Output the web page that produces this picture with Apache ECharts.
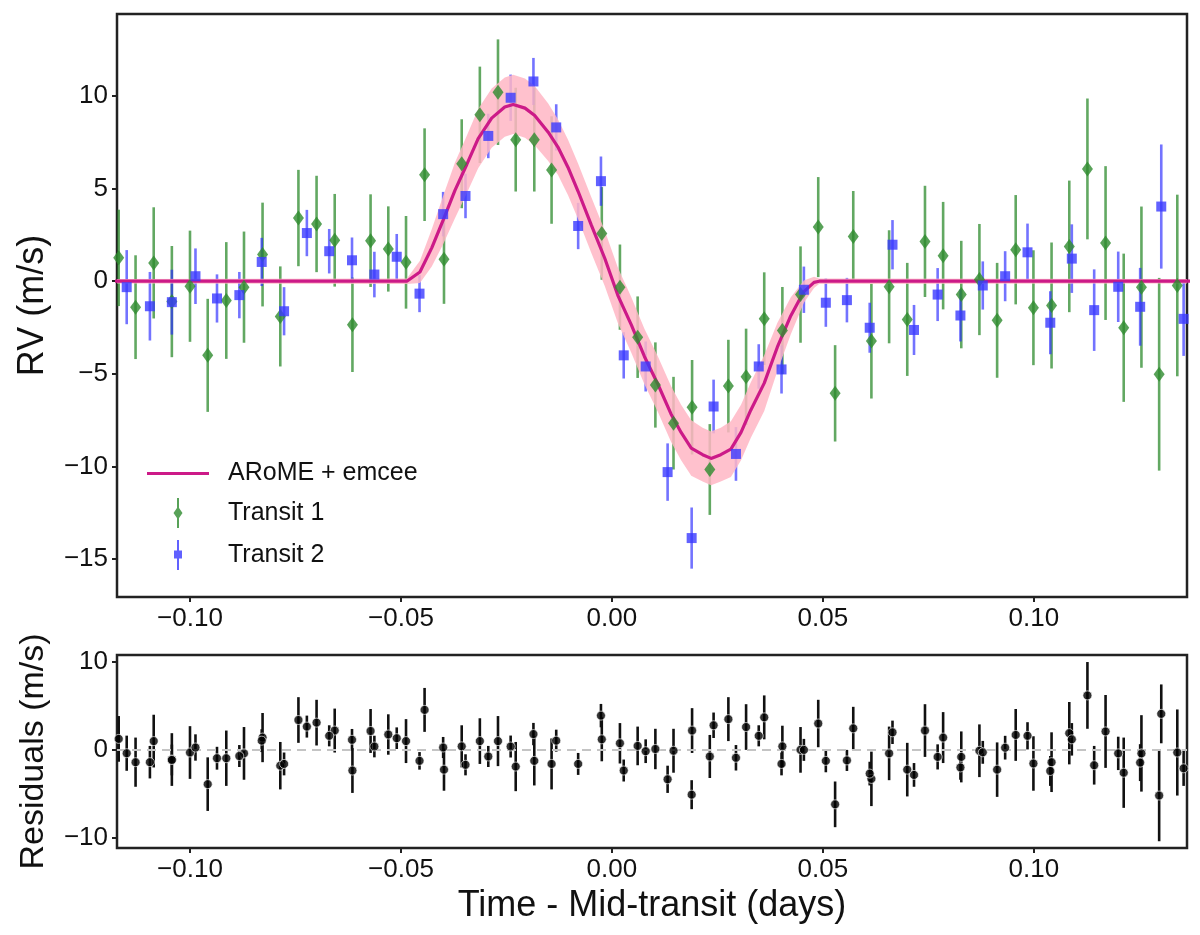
<!DOCTYPE html>
<html>
<head>
<meta charset="utf-8">
<title>RM effect fit</title>
<script src="https://cdn.jsdelivr.net/npm/echarts@6.0.0/dist/echarts.min.js"></script>
<style>
  html, body { margin: 0; padding: 0; background: #fff; }
  #chart { width: 1200px; height: 935px; }
</style>
</head>
<body>
<div id="chart"></div>
<script>
// Transit 1 (green diamonds)
var t1Time = [-0.1169, -0.1129, -0.1086, -0.1043, -0.1000, -0.0958, -0.0914, -0.0872, -0.0828, -0.0786,
  -0.0743, -0.0700, -0.0657, -0.0615, -0.0572, -0.0530, -0.0488, -0.0444, -0.0398, -0.0356,
  -0.0313, -0.0270, -0.0228, -0.0184, -0.0143, -0.0024, 0.0019, 0.0061, 0.0103, 0.0146,
  0.0190, 0.0232, 0.0276, 0.0318, 0.0361, 0.0404, 0.0447, 0.0489, 0.0529, 0.0572,
  0.0615, 0.0657, 0.0700, 0.0742, 0.0785, 0.0828, 0.0871, 0.0913, 0.0957, 0.0999,
  0.1042, 0.1084, 0.1127, 0.1170, 0.1213, 0.1255, 0.1297, 0.1340];
var t1RV = [1.26, -1.40, 0.99, -1.10, -0.27, -4.00, -1.04, -0.32, 1.44, -1.90,
  3.41, 3.09, 2.21, -2.35, 2.19, 1.74, 1.02, 5.75, 1.18, 6.34,
  8.98, 10.20, 7.64, 7.64, 6.00, 2.58, -0.32, -3.02, -5.60, -7.66,
  -6.80, -10.16, -5.66, -5.16, -2.02, -2.66, -0.72, 2.92, -6.05, 2.42,
  -3.23, -0.30, -2.06, 2.15, 1.38, -0.72, 0.09, -2.11, 1.70, -1.43,
  -1.31, 1.88, 6.06, 2.06, -2.51, -0.32, -5.02, -0.23];
var t1Err = [2.6, 2.8, 3.0, 3.0, 3.0, 3.05, 3.15, 3.0, 2.8, 2.7,
  2.6, 2.6, 2.5, 2.55, 2.5, 2.3, 2.5, 2.5, 2.4, 2.4,
  2.6, 2.85, 2.8, 2.8, 2.9, 2.5, 2.3, 2.2, 2.3, 2.5,
  2.55, 2.45, 2.5, 2.6, 2.5, 2.35, 2.6, 2.7, 2.6, 2.45,
  3.1, 3.05, 3.05, 3.0, 2.9, 2.9, 3.0, 3.1, 2.95, 3.1,
  3.4, 3.55, 3.8, 4.15, 4.0, 4.35, 5.2, 4.9];
var t1Resid = [1.25, -1.4, 1.0, -1.1, -0.3, -3.9, -0.95, -0.4, 1.4, -1.8,
  3.4, 3.1, 2.2, -2.35, 2.15, 1.75, 1.0, 4.55, -2.25, 0.4,
  1.0, 1.0, -1.9, -1.25, -1.6, 1.2, 0.75, 0.45, 0.1, -0.1,
  2.2, -0.75, 3.5, 2.6, 3.7, 0.4, 0.0, 3.0, -6.2, 2.45,
  -3.3, -0.4, -2.25, 2.2, 1.4, -0.8, -0.1, -2.25, 1.7, -1.55,
  -1.4, 1.9, 6.2, 2.1, -2.6, -0.4, -5.2, -0.3];

// Transit 2 (blue squares)
var t2Time = [-0.1150, -0.1095, -0.1043, -0.0987, -0.0936, -0.0883, -0.0830, -0.0777, -0.0723, -0.0670,
  -0.0616, -0.0563, -0.0510, -0.0456, -0.0400, -0.0347, -0.0293, -0.0240, -0.0186, -0.0132,
  -0.0080, -0.0026, 0.0028, 0.0080, 0.0132, 0.0189, 0.0241, 0.0294, 0.0348, 0.0402,
  0.0455, 0.0507, 0.0557, 0.0611, 0.0665, 0.0716, 0.0772, 0.0826, 0.0879, 0.0932,
  0.0985, 0.1039, 0.1090, 0.1143, 0.1200, 0.1252, 0.1302, 0.1355];
var t2RV = [-0.32, -1.35, -1.13, 0.27, -0.93, -0.75, 1.04, -1.62, 2.60, 1.62,
  1.13, 0.36, 1.32, -0.67, 3.62, 4.60, 7.84, 9.90, 10.78, 8.30,
  2.98, 5.40, -4.00, -4.60, -10.30, -13.86, -6.76, -9.32, -4.60, -4.76,
  -0.46, -1.16, -1.02, -2.51, 1.97, -2.63, -0.72, -1.85, -0.23, 0.27,
  1.56, -2.24, 1.22, -1.56, -0.30, -1.38, 4.03, -2.03];
var t2Err = [2.0, 1.85, 1.75, 1.5, 1.3, 1.25, 1.3, 1.3, 1.25, 1.2,
  1.23, 1.23, 1.23, 1.0, 1.2, 1.2, 1.2, 1.25, 1.27, 1.25,
  1.25, 1.33, 1.25, 1.35, 1.55, 1.65, 1.45, 1.45, 1.2, 1.3,
  1.25, 1.3, 1.2, 1.35, 1.33, 1.35, 1.43, 1.4, 1.3, 1.35,
  1.55, 1.7, 1.85, 2.2, 1.9, 2.1, 3.35, 2.0];
var t2Resid = [-0.38, -1.4, -1.15, 0.27, -0.95, -0.7, 1.05, -1.6, 2.65, 1.6,
  1.15, 0.38, 1.33, -1.25, 0.27, -1.7, -0.75, 0.38, 1.8, 1.05,
  -1.6, 3.9, -2.35, -0.15, -3.35, -5.1, 2.8, -0.9, 1.6, -1.6,
  0.0, -1.25, -1.2, -2.7, 2.0, -2.85, -0.8, -2.0, -0.28, 0.25,
  1.6, -2.4, 1.2, -1.75, -0.4, -1.45, 4.1, -2.1];

// ARoME + emcee model and its spread
var modelTime = [-0.1200, -0.0486, -0.0455, -0.0427, -0.0400, -0.0372, -0.0344, -0.0317, -0.0285, -0.0254,
  -0.0234, -0.0206, -0.0183, -0.0151, -0.0128, -0.0104, -0.0080, -0.0049, -0.0017, 0.0014,
  0.0046, 0.0077, 0.0109, 0.0140, 0.0164, 0.0188, 0.0215, 0.0235, 0.0258, 0.0282,
  0.0306, 0.0329, 0.0361, 0.0392, 0.0424, 0.0455, 0.0479, 0.0491, 0.1400];
var modelRV = [0, 0, 0.50, 1.80, 3.30, 4.90, 6.30, 7.70, 8.80, 9.40,
  9.54, 9.34, 8.94, 8.04, 7.24, 6.14, 4.84, 3.04, 1.24, -0.76,
  -2.36, -4.06, -5.56, -7.16, -8.16, -9.00, -9.36, -9.56, -9.36, -9.06,
  -8.16, -6.96, -5.50, -3.56, -1.86, -0.56, -0.06, 0, 0];
var modelBand = [0.12, 0.15, 0.6, 1.0, 1.3, 1.5, 1.55, 1.6, 1.6, 1.6,
  1.6, 1.6, 1.6, 1.55, 1.5, 1.5, 1.5, 1.5, 1.5, 1.5,
  1.5, 1.5, 1.5, 1.5, 1.5, 1.5, 1.45, 1.45, 1.45, 1.5,
  1.5, 1.5, 1.5, 1.3, 1.0, 0.6, 0.3, 0.15, 0.12];

var xTicks = [-0.10, -0.05, 0.00, 0.05, 0.10];
var rvTicks = [-15, -10, -5, 0, 5, 10];
var residTicks = [-10, 0, 10];

var FONT = "'Liberation Sans', Arial, sans-serif";
var greenMark = '#2e8b2e', greenBar = 'rgba(46,139,46,0.75)';
var blueMark = '#3a3aff', blueBar = 'rgba(40,40,255,0.65)';
var modelColor = '#cc1a88';

function fmtX(v) {
  return (v < -1e-9 ? '\u2212' : '') + Math.abs(v).toFixed(2);
}
function fmtY(v) {
  return (v < 0 ? '\u2212' : '') + Math.abs(v);
}

function zip3(a, b, c) {
  return a.map(function (t, i) { return [t, b[i], c[i]]; });
}

function errorBars(color, width) {
  return function (params, api) {
    var x = api.value(0), y = api.value(1), e = api.value(2);
    var lo = api.coord([x, y - e]);
    var hi = api.coord([x, y + e]);
    return {
      type: 'line',
      shape: { x1: lo[0], y1: lo[1], x2: hi[0], y2: hi[1] },
      style: { stroke: color, lineWidth: width }
    };
  };
}

function bandRender(params, api) {
  if (params.dataIndex !== 0) return;
  var pts = [];
  for (var i = 0; i < modelTime.length; i++) {
    pts.push(api.coord([modelTime[i], modelRV[i] + modelBand[i]]));
  }
  for (var j = modelTime.length - 1; j >= 0; j--) {
    pts.push(api.coord([modelTime[j], modelRV[j] - modelBand[j]]));
  }
  return { type: 'polygon', shape: { points: pts }, style: { fill: 'rgba(255,182,196,0.85)' } };
}

function xAxisCfg(idx, withName) {
  var ax = {
    type: 'value', gridIndex: idx, min: -0.1173, max: 0.1363,
    axisLine: { show: false, onZero: false },
    splitLine: { show: false },
    axisTick: { show: true, length: 5, customValues: xTicks, lineStyle: { color: '#222', width: 2 } },
    axisLabel: { customValues: xTicks, formatter: fmtX, fontSize: 26, color: '#111', margin: 9, fontFamily: FONT }
  };
  if (withName) {
    ax.name = 'Time - Mid-transit (days)';
    ax.nameLocation = 'middle';
    ax.nameGap = 40;
    ax.nameTextStyle = { fontSize: 36, color: '#111', fontFamily: FONT };
  }
  return ax;
}

function yAxisCfg(idx, min, max, ticks, name, nameSize) {
  return {
    type: 'value', gridIndex: idx, min: min, max: max,
    axisLine: { show: false, onZero: false },
    splitLine: { show: false },
    axisTick: { show: true, length: 5, customValues: ticks, lineStyle: { color: '#222', width: 2 } },
    axisLabel: { customValues: ticks, formatter: fmtY, fontSize: 26, color: '#111', margin: 9, fontFamily: FONT },
    name: name, nameLocation: 'middle', nameGap: 66,
    nameTextStyle: { fontSize: nameSize, color: '#111', fontFamily: FONT }
  };
}

var chart = echarts.init(document.getElementById('chart'), null, { renderer: 'canvas' });

var option = {
  backgroundColor: '#fff',
  animation: false,
  textStyle: { fontFamily: FONT },
  grid: [
    { left: 117, right: 13, top: 14, height: 583, show: true, borderColor: '#222', borderWidth: 2.5, backgroundColor: 'transparent' },
    { left: 117, right: 13, top: 655, height: 193, show: true, borderColor: '#222', borderWidth: 2.5, backgroundColor: 'transparent' }
  ],
  xAxis: [xAxisCfg(0, false), xAxisCfg(1, true)],
  yAxis: [
    yAxisCfg(0, -17.04, 14.42, rvTicks, 'RV (m/s)', 36),
    yAxisCfg(1, -11.17, 10.8, residTicks, 'Residuals (m/s)', 34)
  ],
  legend: {
    orient: 'vertical', left: 142, top: 456,
    itemWidth: 62, itemHeight: 30, itemGap: 12,
    textStyle: { fontSize: 25, color: '#111', fontFamily: FONT, padding: [0, 0, 0, 14] },
    data: [
      { name: 'ARoME + emcee', icon: 'path://M0,0L62,0L62,3L0,3Z', itemStyle: { color: modelColor } },
      { name: 'Transit 1', icon: 'path://M3.5,0L5.5,0L5.5,30L3.5,30Z M4.5,8.5L9,15L4.5,21.5L0,15Z', itemStyle: { color: greenMark } },
      { name: 'Transit 2', icon: 'path://M3.5,0L5.5,0L5.5,30L3.5,30Z M0.5,10.5L8.5,10.5L8.5,18.5L0.5,18.5Z', itemStyle: { color: blueMark } }
    ]
  },
  series: [
    {
      name: 'err1', type: 'custom', xAxisIndex: 0, yAxisIndex: 0, clip: true, z: 2,
      renderItem: errorBars(greenBar, 2.6), encode: { x: 0, y: 1 },
      data: zip3(t1Time, t1RV, t1Err)
    },
    {
      name: 'err2', type: 'custom', xAxisIndex: 0, yAxisIndex: 0, clip: true, z: 2,
      renderItem: errorBars(blueBar, 2.6), encode: { x: 0, y: 1 },
      data: zip3(t2Time, t2RV, t2Err)
    },
    {
      name: 'band', type: 'custom', xAxisIndex: 0, yAxisIndex: 0, clip: true, z: 3,
      renderItem: bandRender, encode: { x: 0, y: 1 },
      data: modelTime.map(function (t, i) { return [t, modelRV[i]]; })
    },
    {
      name: 'ARoME + emcee', type: 'line', xAxisIndex: 0, yAxisIndex: 0, z: 4,
      showSymbol: false, symbol: 'none', color: modelColor,
      lineStyle: { color: modelColor, width: 3.2 },
      data: modelTime.map(function (t, i) { return [t, modelRV[i]]; })
    },
    {
      name: 'Transit 1', type: 'scatter', xAxisIndex: 0, yAxisIndex: 0, z: 5,
      symbol: 'diamond', symbolSize: [11, 15], color: greenMark,
      itemStyle: { color: greenMark },
      data: t1Time.map(function (t, i) { return [t, t1RV[i]]; })
    },
    {
      name: 'Transit 2', type: 'scatter', xAxisIndex: 0, yAxisIndex: 0, z: 6,
      symbol: 'rect', symbolSize: 10, color: blueMark,
      itemStyle: { color: blueMark },
      data: t2Time.map(function (t, i) { return [t, t2RV[i]]; })
    },
    {
      name: 'resErr1', type: 'custom', xAxisIndex: 1, yAxisIndex: 1, clip: true, z: 3,
      renderItem: errorBars('#111', 2.6), encode: { x: 0, y: 1 },
      data: zip3(t1Time, t1Resid, t1Err),
      markLine: {
        silent: true, symbol: 'none', label: { show: false },
        lineStyle: { color: '#c4c4c4', type: [9, 6], width: 2 },
        data: [{ yAxis: 0 }]
      }
    },
    {
      name: 'resErr2', type: 'custom', xAxisIndex: 1, yAxisIndex: 1, clip: true, z: 3,
      renderItem: errorBars('#111', 2.6), encode: { x: 0, y: 1 },
      data: zip3(t2Time, t2Resid, t2Err)
    },
    {
      name: 'res1', type: 'scatter', xAxisIndex: 1, yAxisIndex: 1, z: 5,
      symbol: 'circle', symbolSize: 9,
      itemStyle: { color: '#000', borderColor: '#fff', borderWidth: 0.8 },
      data: t1Time.map(function (t, i) { return [t, t1Resid[i]]; })
    },
    {
      name: 'res2', type: 'scatter', xAxisIndex: 1, yAxisIndex: 1, z: 5,
      symbol: 'circle', symbolSize: 9,
      itemStyle: { color: '#000', borderColor: '#fff', borderWidth: 0.8 },
      data: t2Time.map(function (t, i) { return [t, t2Resid[i]]; })
    }
  ]
};

chart.setOption(option);
</script>
</body>
</html>
